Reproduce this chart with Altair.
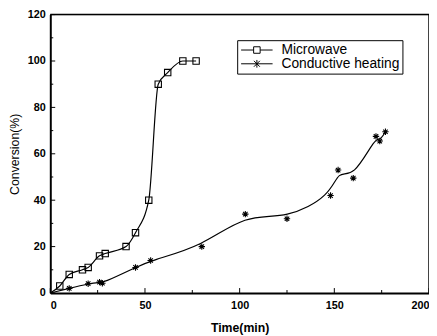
import altair as alt
import pandas as pd

mw_time = [0, 5, 10, 17, 20, 26, 29, 40, 45, 52, 57, 62, 70, 77]
mw_conv = [0, 3, 8, 10, 11, 16, 17, 20, 26, 40, 90, 95, 100, 100]

ch_time = [0, 10, 20, 26, 27.5, 45, 53, 80, 103, 125, 148, 152, 160, 172, 174, 177]
ch_conv = [0, 2, 4, 4.7, 4.2, 11, 14, 20, 34, 32, 42, 53, 49.5, 67.5, 65.5, 69.5]

series_names = ["Microwave", "Conductive heating"]

df = pd.concat([
    pd.DataFrame({"t": mw_time, "c": mw_conv, "s": series_names[0]}),
    pd.DataFrame({"t": ch_time, "c": ch_conv, "s": series_names[1]}),
])
df["s2"] = df["s"]

FONT = "Liberation Sans"
SQ = "M-1,-1L1,-1L1,1L-1,1Z"
AST = "M-1,0L1,0M0,-1L0,1M-0.7,-0.7L0.7,0.7M-0.7,0.7L0.7,-0.7"
LEG_SQ = "M-1,0L1.12,0M2.22,0L4.33,0M1.12,-0.55L2.22,-0.55L2.22,0.55L1.12,0.55Z"
LEG_AST = "M-1,0L4.33,0M1.67,-0.65L1.67,0.65M1.17,-0.5L2.17,0.5M1.17,0.5L2.17,-0.5"

xsc = alt.Scale(domain=[0, 200], nice=False, zero=False)
ysc = alt.Scale(domain=[0, 120], nice=False)

xax = alt.Axis(
    values=[0, 50, 100, 150, 200], title="Time(min)", grid=False,
    ticks=False, domainWidth=2, domainColor="black",
    labelFont=FONT, labelFontSize=11, labelFontWeight="bold", labelColor="black",
    titleFont=FONT, titleFontSize=12.5, titleFontWeight="bold", titleColor="black",
    labelPadding=7, titlePadding=11)
yax = alt.Axis(values=[0, 20, 40, 60, 80, 100, 120], title="Conversion(%)", grid=False,
    ticks=False, domainWidth=2, domainColor="black",
    labelFont=FONT, labelFontSize=11, labelFontWeight="bold", labelColor="black",
    titleFont=FONT, titleFontSize=12.5, titleFontWeight="normal", titleColor="black",
    labelPadding=5, titlePadding=6)

base = alt.Chart(df)

lines_mw = base.transform_filter(alt.datum.s == series_names[0]).mark_line(
    interpolate="monotone", color="black", strokeWidth=1.2).encode(
    x=alt.X("t:Q", scale=xsc, axis=xax), y=alt.Y("c:Q", scale=ysc, axis=yax))
lines_ch = base.transform_filter(alt.datum.s == series_names[1]).mark_line(
    interpolate="basis", color="black", strokeWidth=1.2).encode(
    x=alt.X("t:Q", scale=xsc), y=alt.Y("c:Q", scale=ysc))

pts = base.transform_filter(alt.datum.t > 0).mark_point(
    filled=False, color="black", strokeWidth=1.1, size=42, opacity=1).encode(
    x=alt.X("t:Q", scale=xsc), y=alt.Y("c:Q", scale=ysc),
    shape=alt.Shape("s:N", scale=alt.Scale(domain=series_names, range=[SQ, AST]), legend=None))

legend_layer = base.mark_point(filled=False, color="black", opacity=0, strokeWidth=1).encode(
    x=alt.X("t:Q", scale=xsc), y=alt.Y("c:Q", scale=ysc),
    shape=alt.Shape("s2:N", title=None, scale=alt.Scale(domain=series_names, range=[LEG_SQ, LEG_AST]),
        legend=alt.Legend(orient="none", legendX=190, legendY=26, title=None,
            symbolSize=144, symbolOpacity=1, symbolStrokeColor="black", symbolFillColor="transparent",
            symbolStrokeWidth=1, labelFont=FONT, labelFontSize=14, labelColor="black",
            strokeColor="black", padding=3, rowPadding=0, labelOffset=28, symbolOffset=0)))

frame_top = alt.Chart(pd.DataFrame({"v": [120]})).mark_rule(color="black", strokeWidth=1.5).encode(
    y=alt.Y("v:Q", scale=ysc), x=alt.value(0), x2=alt.value(385))
frame_right = alt.Chart(pd.DataFrame({"v": [200]})).mark_rule(color="black", strokeWidth=1.5).encode(
    x=alt.X("v:Q", scale=xsc), y=alt.value(0), y2=alt.value(283))

xt_major = [0, 50, 100, 150, 200]
xt_minor = [25, 75, 125, 175]
yt_major = [0, 20, 40, 60, 80, 100, 120]
yt_minor = [10, 30, 50, 70, 90, 110]
xtick = alt.Chart(pd.DataFrame({"v": xt_major})).mark_rule(color="black", strokeWidth=1).encode(
    x=alt.X("v:Q", scale=xsc), y=alt.value(283), y2=alt.value(278))
xtick2 = alt.Chart(pd.DataFrame({"v": xt_minor})).mark_rule(color="black", strokeWidth=1).encode(
    x=alt.X("v:Q", scale=xsc), y=alt.value(283), y2=alt.value(280))
ytick = alt.Chart(pd.DataFrame({"v": yt_major})).mark_rule(color="black", strokeWidth=1).encode(
    y=alt.Y("v:Q", scale=ysc), x=alt.value(0), x2=alt.value(5))
ytick2 = alt.Chart(pd.DataFrame({"v": yt_minor})).mark_rule(color="black", strokeWidth=1).encode(
    y=alt.Y("v:Q", scale=ysc), x=alt.value(0), x2=alt.value(3))

chart = alt.layer(lines_mw, lines_ch, pts, legend_layer, frame_top, frame_right,
                  xtick, xtick2, ytick, ytick2).resolve_scale(shape="independent").resolve_legend(
    shape="independent").properties(
    width=385, height=283,
    autosize=alt.AutoSizeParams(type="none"),
    padding={"left": 43, "top": 4, "right": 0, "bottom": 40},
).configure_view(stroke=None).configure(background="white")

chart.save("out.html", embed_options={"renderer": "svg", "actions": False})
